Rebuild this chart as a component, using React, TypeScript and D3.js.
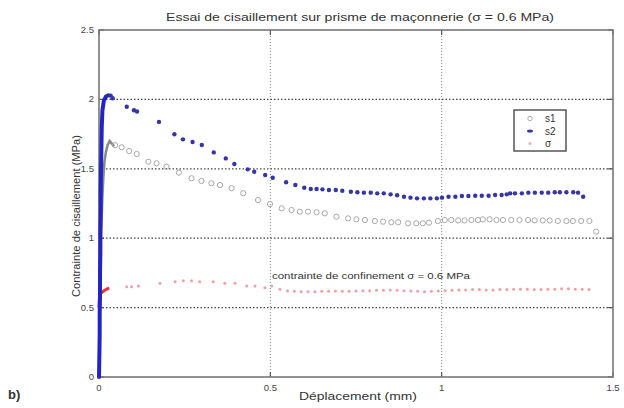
import { useEffect, useRef } from "react";
import * as d3 from "d3";

// s2 (blue dots): loading branch then post-peak
const s2RiseX = [0, 0.001, 0.002, 0.002, 0.003, 0.003, 0.004, 0.004, 0.005, 0.005, 0.006, 0.007, 0.008, 0.010, 0.014, 0.020, 0.027];
const s2RiseY = [0, 0.15, 0.3, 0.45, 0.6, 0.75, 0.9, 1.05, 1.2, 1.35, 1.5, 1.65, 1.8, 1.92, 1.99, 2.02, 2.03];
const s2X = [0.034, 0.040, 0.081, 0.102, 0.111, 0.175, 0.220, 0.245, 0.273, 0.300, 0.335, 0.370, 0.395, 0.434, 0.453, 0.485, 0.507, 0.546, 0.573, 0.599, 0.618, 0.635, 0.652, 0.671, 0.691, 0.710, 0.735, 0.754, 0.773, 0.793, 0.812, 0.831, 0.851, 0.870, 0.890, 0.909, 0.928, 0.948, 0.967, 0.986, 1.001, 1.020, 1.040, 1.059, 1.078, 1.098, 1.117, 1.137, 1.156, 1.175, 1.190, 1.200, 1.214, 1.234, 1.253, 1.272, 1.292, 1.311, 1.330, 1.345, 1.364, 1.384, 1.398, 1.413];
const s2Y = [2.027, 2.008, 1.947, 1.922, 1.913, 1.838, 1.749, 1.712, 1.693, 1.672, 1.618, 1.575, 1.535, 1.496, 1.479, 1.455, 1.436, 1.403, 1.383, 1.364, 1.354, 1.354, 1.352, 1.347, 1.347, 1.342, 1.335, 1.331, 1.328, 1.328, 1.323, 1.323, 1.316, 1.309, 1.299, 1.292, 1.287, 1.287, 1.287, 1.287, 1.292, 1.299, 1.299, 1.304, 1.304, 1.306, 1.306, 1.306, 1.311, 1.311, 1.316, 1.323, 1.323, 1.323, 1.328, 1.328, 1.328, 1.328, 1.331, 1.331, 1.331, 1.331, 1.328, 1.299];

// s1 (grey circles)
const s1RiseX = [0.004, 0.007, 0.010, 0.013, 0.016, 0.020, 0.025, 0.031, 0.038, 0.044];
const s1RiseY = [0.9, 1.1, 1.3, 1.45, 1.55, 1.62, 1.67, 1.70, 1.68, 1.66];
const s1X = [0.047, 0.066, 0.088, 0.110, 0.144, 0.168, 0.197, 0.233, 0.270, 0.299, 0.328, 0.353, 0.387, 0.421, 0.464, 0.499, 0.533, 0.562, 0.586, 0.610, 0.635, 0.659, 0.693, 0.727, 0.751, 0.776, 0.805, 0.829, 0.853, 0.873, 0.902, 0.926, 0.945, 0.963, 0.989, 1.009, 1.028, 1.048, 1.067, 1.087, 1.106, 1.120, 1.140, 1.160, 1.179, 1.203, 1.227, 1.252, 1.271, 1.295, 1.315, 1.339, 1.364, 1.383, 1.407, 1.431, 1.451];
const s1Y = [1.67, 1.655, 1.628, 1.607, 1.551, 1.540, 1.515, 1.472, 1.432, 1.412, 1.396, 1.383, 1.360, 1.324, 1.275, 1.246, 1.215, 1.203, 1.191, 1.191, 1.187, 1.179, 1.155, 1.143, 1.136, 1.131, 1.124, 1.119, 1.115, 1.115, 1.107, 1.107, 1.107, 1.112, 1.124, 1.131, 1.131, 1.128, 1.128, 1.131, 1.131, 1.136, 1.136, 1.131, 1.131, 1.131, 1.131, 1.131, 1.128, 1.128, 1.128, 1.124, 1.124, 1.124, 1.124, 1.124, 1.047];

// sigma (confinement stress, red)
const sgRiseX = [0, 0.001, 0.003, 0.006, 0.010, 0.015, 0.020, 0.025, 0.030];
const sgRiseY = [0.50, 0.56, 0.59, 0.603, 0.613, 0.622, 0.630, 0.636, 0.639];
const sgX = [0.081, 0.095, 0.115, 0.178, 0.222, 0.246, 0.270, 0.294, 0.333, 0.367, 0.397, 0.431, 0.455, 0.484, 0.504, 0.528, 0.55, 0.57, 0.59, 0.61, 0.63, 0.65, 0.67, 0.69, 0.71, 0.73, 0.75, 0.77, 0.79, 0.81, 0.83, 0.85, 0.87, 0.89, 0.91, 0.93, 0.95, 0.97, 0.99, 1.01, 1.03, 1.05, 1.07, 1.09, 1.11, 1.13, 1.15, 1.17, 1.19, 1.21, 1.23, 1.25, 1.27, 1.29, 1.31, 1.33, 1.35, 1.37, 1.39, 1.41, 1.43];
const sgY = [0.651, 0.651, 0.656, 0.675, 0.687, 0.694, 0.694, 0.687, 0.687, 0.675, 0.675, 0.656, 0.656, 0.643, 0.656, 0.632, 0.62, 0.618, 0.615, 0.615, 0.615, 0.618, 0.618, 0.62, 0.618, 0.618, 0.62, 0.622, 0.622, 0.625, 0.625, 0.627, 0.625, 0.622, 0.62, 0.618, 0.615, 0.618, 0.62, 0.622, 0.625, 0.627, 0.627, 0.63, 0.63, 0.627, 0.627, 0.63, 0.63, 0.632, 0.632, 0.632, 0.63, 0.63, 0.632, 0.632, 0.635, 0.635, 0.632, 0.632, 0.63];

const xTicks = [0, 0.5, 1, 1.5];
const yTicks = [0, 0.5, 1, 1.5, 2, 2.5];
const legendLabels = ["s1", "s2", "σ"];

const font = "'Liberation Sans', Arial, sans-serif";

const App = () => {
  const svgRef = useRef<SVGSVGElement>(null);

  useEffect(() => {
    const svg = d3.select(svgRef.current);
    svg.selectAll("*").remove();

    const left = 99, right = 613, top = 30, bottom = 377;
    const x = d3.scaleLinear().domain([0, 1.5]).range([left, right]);
    const y = d3.scaleLinear().domain([0, 2.5]).range([bottom, top]);

    const zip = (xs: number[], ys: number[]) => xs.map((v, i) => [v, ys[i]] as [number, number]);
    const line = d3.line<[number, number]>().x((d) => x(d[0])).y((d) => y(d[1]));

    // grid
    svg.append("g")
      .selectAll("line")
      .data(xTicks.slice(1, -1))
      .join("line")
      .attr("x1", (d) => x(d)).attr("x2", (d) => x(d))
      .attr("y1", top).attr("y2", bottom)
      .attr("stroke", "#888").attr("stroke-dasharray", "1,2");
    svg.append("g")
      .selectAll("line")
      .data(yTicks.slice(1, -1))
      .join("line")
      .attr("x1", left).attr("x2", right)
      .attr("y1", (d) => y(d)).attr("y2", (d) => y(d))
      .attr("stroke", "#444").attr("stroke-width", 1.2).attr("stroke-dasharray", "1.5,2");

    // inward ticks
    const tk = svg.append("g").attr("stroke", "#555").attr("stroke-width", 1.2);
    xTicks.forEach((t) => {
      tk.append("line").attr("x1", x(t)).attr("x2", x(t)).attr("y1", bottom).attr("y2", bottom - 5);
      tk.append("line").attr("x1", x(t)).attr("x2", x(t)).attr("y1", top).attr("y2", top + 5);
    });
    yTicks.forEach((t) => {
      tk.append("line").attr("x1", left).attr("x2", left + 5).attr("y1", y(t)).attr("y2", y(t));
      tk.append("line").attr("x1", right).attr("x2", right - 5).attr("y1", y(t)).attr("y2", y(t));
    });

    // frame
    svg.append("rect")
      .attr("x", left).attr("y", top)
      .attr("width", right - left).attr("height", bottom - top)
      .attr("fill", "none").attr("stroke", "#777").attr("stroke-width", 1.6);

    // tick labels
    svg.append("g")
      .selectAll("text")
      .data(xTicks)
      .join("text")
      .attr("x", (d) => x(d)).attr("y", 391)
      .attr("text-anchor", "middle")
      .attr("font-family", font).attr("font-size", 9.5).attr("fill", "#444")
      .text((d) => String(d));
    svg.append("g")
      .selectAll("text")
      .data(yTicks)
      .join("text")
      .attr("x", left - 5).attr("y", (d) => y(d) + 3)
      .attr("text-anchor", "end")
      .attr("font-family", font).attr("font-size", 9.5).attr("fill", "#444")
      .text((d) => String(d));

    // sigma series
    svg.append("path")
      .attr("d", line(zip(sgRiseX, sgRiseY)))
      .attr("fill", "none").attr("stroke", "#e23a3a").attr("stroke-width", 3);
    svg.append("g")
      .selectAll("circle")
      .data(zip(sgX, sgY))
      .join("circle")
      .attr("cx", (d) => x(d[0])).attr("cy", (d) => y(d[1]))
      .attr("r", 1.5).attr("fill", "#f0a0a4");

    // s1 series
    svg.append("path")
      .attr("d", line(zip(s1RiseX, s1RiseY)))
      .attr("fill", "none").attr("stroke", "#888").attr("stroke-width", 2.5);
    svg.append("g")
      .selectAll("circle")
      .data(zip(s1X, s1Y))
      .join("circle")
      .attr("cx", (d) => x(d[0])).attr("cy", (d) => y(d[1]))
      .attr("r", 2.6).attr("fill", "none").attr("stroke", "#a8a8a8").attr("stroke-width", 1);

    // s2 series
    svg.append("path")
      .attr("d", line(zip(s2RiseX, s2RiseY)))
      .attr("fill", "none").attr("stroke", "#2323c8").attr("stroke-width", 4)
      .attr("stroke-linecap", "round");
    svg.append("g")
      .selectAll("circle")
      .data(zip(s2X, s2Y))
      .join("circle")
      .attr("cx", (d) => x(d[0])).attr("cy", (d) => y(d[1]))
      .attr("r", 2.2).attr("fill", "#3535a8");

    // legend
    const lg = svg.append("g");
    lg.append("rect")
      .attr("x", 514).attr("y", 110).attr("width", 52).attr("height", 41)
      .attr("fill", "white").attr("stroke", "#555").attr("stroke-width", 1.5);
    legendLabels.forEach((lab, i) => {
      const cy = 118.5 + i * 12.5;
      if (i === 0) lg.append("circle").attr("cx", 530).attr("cy", cy).attr("r", 2.2).attr("fill", "none").attr("stroke", "#aaa");
      if (i === 1) lg.append("ellipse").attr("cx", 530).attr("cy", cy).attr("rx", 3).attr("ry", 1.6).attr("fill", "#3535a8");
      if (i === 2) lg.append("circle").attr("cx", 530).attr("cy", cy).attr("r", 1.6).attr("fill", "#f0b0b4");
      lg.append("text")
        .attr("x", 545).attr("y", cy + 3.5)
        .attr("font-family", font).attr("font-size", 10).attr("fill", "#333")
        .text(lab);
    });

    // texts
    svg.append("text")
      .attr("x", 360).attr("y", 21)
      .attr("text-anchor", "middle")
      .attr("font-family", font).attr("font-size", 11).attr("fill", "#333")
      .attr("textLength", 388).attr("lengthAdjust", "spacingAndGlyphs")
      .text("Essai de cisaillement  sur prisme de maçonnerie (σ = 0.6 MPa)");
    svg.append("text")
      .attr("x", 358).attr("y", 400)
      .attr("text-anchor", "middle")
      .attr("font-family", font).attr("font-size", 11).attr("fill", "#333")
      .attr("textLength", 118).attr("lengthAdjust", "spacingAndGlyphs")
      .text("Déplacement (mm)");
    svg.append("text")
      .attr("transform", "translate(80,216) rotate(-90)")
      .attr("text-anchor", "middle")
      .attr("font-family", font).attr("font-size", 10.5).attr("fill", "#333")
      .attr("textLength", 162).attr("lengthAdjust", "spacingAndGlyphs")
      .text("Contrainte de cisaillement (MPa)");
    svg.append("text")
      .attr("x", 272).attr("y", 279)
      .attr("font-family", font).attr("font-size", 9.5).attr("fill", "#333")
      .attr("textLength", 198).attr("lengthAdjust", "spacingAndGlyphs")
      .text("contrainte de confinement σ = 0.6 MPa");
    svg.append("text")
      .attr("x", 8).attr("y", 399)
      .attr("font-family", font).attr("font-size", 13).attr("font-weight", "bold").attr("fill", "#333")
      .text("b)");
  }, []);

  return (
    <svg
      ref={svgRef}
      width={624}
      height={408}
      style={{ position: "absolute", left: 0, top: 0, background: "white" }}
    ></svg>
  );
};

export default App;
